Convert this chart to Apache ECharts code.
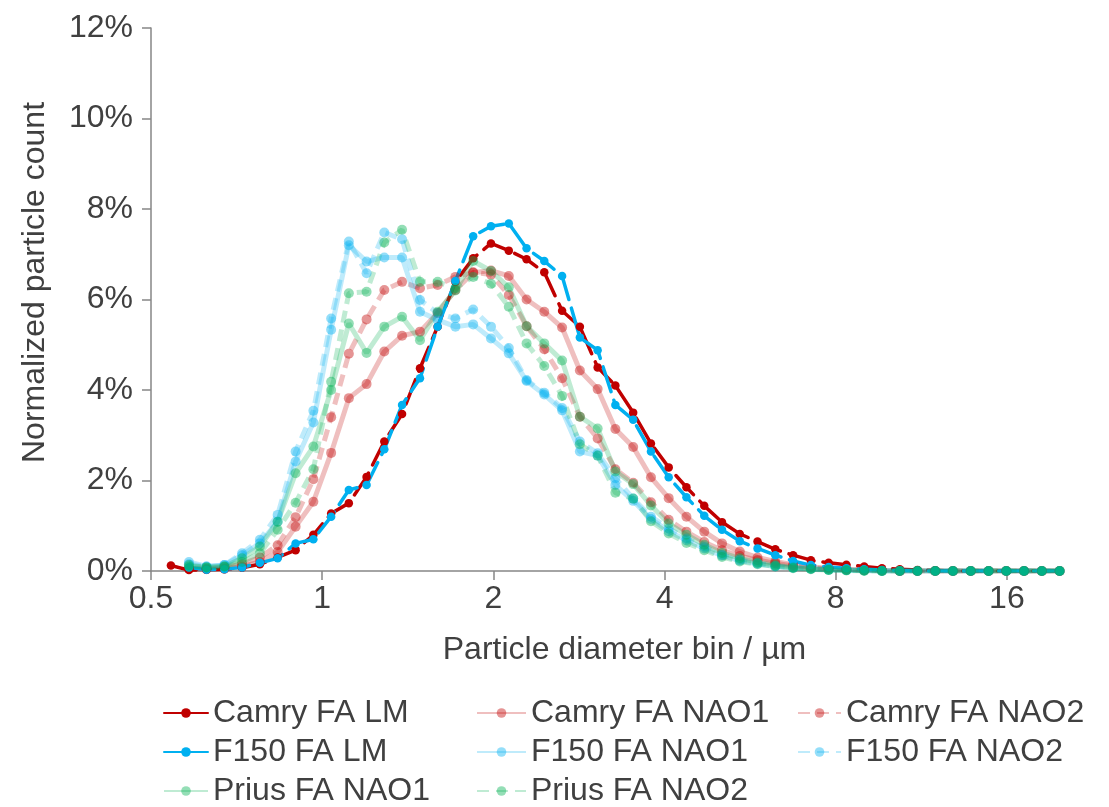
<!DOCTYPE html>
<html>
<head>
<meta charset="utf-8">
<script src="https://cdn.jsdelivr.net/npm/echarts@6/dist/echarts.min.js"></script>
<style>
html,body{margin:0;padding:0;background:#fff;}
#chart{width:1109px;height:807px;}
</style>
</head>
<body>
<div id="chart"></div>
<script>
// Particle diameter bin midpoints (µm)
const diameters = [0.542,0.583,0.626,0.673,0.723,0.777,0.835,0.898,0.965,1.037,
  1.114,1.197,1.286,1.382,1.486,1.596,1.715,1.843,1.981,2.129,
  2.288,2.458,2.642,2.839,3.051,3.278,3.523,3.786,4.068,4.371,
  4.698,5.048,5.425,5.829,6.264,6.732,7.234,7.774,8.354,8.977,
  9.647,10.37,11.14,11.97,12.86,13.82,14.86,15.96,17.15,18.43,
  19.81];

// Normalized particle count (%)
const camryLM = [0.12,0.02,0.03,0.04,0.07,0.15,0.3,0.46,0.8,1.27,
  1.5,2.08,2.86,3.47,4.48,5.4,6.39,6.91,7.24,7.08,
  6.89,6.6,5.75,5.4,4.5,4.1,3.5,2.82,2.29,1.85,
  1.44,1.08,0.82,0.65,0.48,0.35,0.24,0.18,0.14,0.1,
  0.06,0.04,0.02,0.01,0,0,0,0,0,0,0];
const camryNAO1 = [null,0.05,0.04,0.05,0.1,0.2,0.42,0.98,1.53,2.61,
  3.82,4.13,4.85,5.2,5.29,5.7,6.21,6.59,6.64,6.52,
  6.0,5.73,5.38,4.43,4.02,3.14,2.74,2.07,1.61,1.2,
  0.87,0.61,0.43,0.3,0.21,0.14,0.09,0.06,0.04,0.02,
  0.01,0,0,0,0,0,0,0,0,0,0];
const camryNAO2 = [null,0.05,0.05,0.08,0.15,0.3,0.57,1.19,2.03,3.4,
  4.8,5.56,6.21,6.39,6.25,6.32,6.5,6.6,6.55,6.1,
  5.41,4.9,4.26,3.41,2.93,2.25,1.95,1.52,1.13,0.87,
  0.64,0.46,0.33,0.24,0.17,0.11,0.07,0.05,0.03,0.02,
  0.01,0,0,0,0,0,0,0,0,0,0];
const f150LM = [null,0.08,0.03,0.04,0.08,0.18,0.28,0.61,0.7,1.2,
  1.79,1.9,2.69,3.67,4.26,5.4,6.41,7.4,7.62,7.68,
  7.13,6.85,6.52,5.16,4.88,3.67,3.34,2.64,2.07,1.63,
  1.22,0.91,0.66,0.5,0.35,0.22,0.13,0.09,0.06,0.04,
  0.02,0.01,0,0,0,0,0,0,0,0,0];
const f150NAO1 = [null,0.2,0.1,0.13,0.35,0.61,1.09,2.42,3.28,5.33,
  7.2,6.84,6.93,6.93,5.73,5.55,5.4,5.45,5.14,4.81,
  4.2,3.9,3.55,2.64,2.55,1.9,1.55,1.15,0.88,0.68,
  0.5,0.34,0.23,0.16,0.1,0.07,0.05,0.03,0.02,0.01,
  0,0,0,0,0,0,0,0,0,0,0];
const f150NAO2 = [null,0.15,0.1,0.13,0.39,0.69,1.24,2.64,3.54,5.58,
  7.28,6.58,7.48,7.33,5.99,5.7,5.58,5.78,5.4,4.93,
  4.22,3.94,3.6,2.86,2.6,2.05,1.6,1.2,0.94,0.72,
  0.54,0.36,0.25,0.17,0.11,0.07,0.05,0.03,0.02,0.01,
  0,0,0,0,0,0,0,0,0,0,0];
const priusNAO1 = [null,0.13,0.08,0.1,0.28,0.54,1.09,2.16,2.75,4.0,
  5.47,4.82,5.4,5.62,5.1,5.73,6.2,6.85,6.63,6.27,
  5.41,5.03,4.65,3.41,3.15,2.2,1.92,1.45,1.05,0.8,
  0.58,0.4,0.28,0.19,0.13,0.08,0.05,0.03,0.02,0.01,
  0,0,0,0,0,0,0,0,0,0,0];
const priusNAO2 = [null,0.1,0.08,0.1,0.2,0.39,0.91,1.51,2.25,4.18,
  6.14,6.17,7.26,7.54,6.39,6.39,6.25,6.5,6.35,5.84,
  5.03,4.53,3.87,2.8,2.55,1.73,1.6,1.1,0.83,0.62,
  0.46,0.31,0.21,0.15,0.1,0.06,0.04,0.02,0.01,0,
  0,0,0,0,0,0,0,0,0,0,0];

const xTicks = [0.5, 1, 2, 4, 8, 16];

const RED = '#C00000', BLUE = '#00B0F0', GREEN = '#00B050';
const FONT = '"Liberation Sans", Arial, sans-serif';
const FS = 32;
const TXT = '#404040';
const AX = '#868686';

function pairs(vals) {
  return diameters.map((d, i) => [d, vals[i]]);
}
function lmSeries(name, vals, color) {
  return {
    name, type: 'line', data: pairs(vals),
    symbol: 'circle', symbolSize: 8.5, connectNulls: false,
    lineStyle: { color, width: 3.5, type: [26, 9], cap: 'round' },
    itemStyle: { color }
  };
}
function naoSeries(name, vals, color, dashed) {
  return {
    name, type: 'line', data: pairs(vals),
    symbol: 'circle', symbolSize: 10,
    lineStyle: { color, width: 5, opacity: 0.25, type: dashed ? [12, 7] : 'solid' },
    itemStyle: { color, opacity: 0.42 }
  };
}

// one legend entry per component, laid out in a 3-column grid
const legendCells = [
  ['Camry FA LM', 163, 713, 44, true],
  ['Camry FA NAO1', 476, 713, 49, false],
  ['Camry FA NAO2', 797, 713, 43, false],
  ['F150 FA LM', 163, 752, 44, true],
  ['F150 FA NAO1', 476, 752, 49, false],
  ['F150 FA NAO2', 797, 752, 43, false],
  ['Prius FA NAO1', 163, 791, 44, false],
  ['Prius FA NAO2', 476, 791, 49, false]
];
const legends = legendCells.map(([name, x, cy, w, solid]) => ({
  left: x, top: cy - FS / 2, padding: 0, itemWidth: w, itemHeight: 12, itemGap: 0,
  textStyle: { fontFamily: FONT, fontSize: FS, color: TXT, lineHeight: FS },
  data: [solid ? { name, lineStyle: { type: 'solid' } } : name]
}));

const chart = echarts.init(document.getElementById('chart'));
chart.setOption({
  animation: false,
  backgroundColor: '#ffffff',
  textStyle: { fontFamily: FONT },
  grid: { left: 151, right: 47, top: 28, bottom: 236, containLabel: false },
  xAxis: {
    type: 'log', logBase: 2, min: 0.5, max: 20,
    name: 'Particle diameter bin / µm', nameLocation: 'middle', nameGap: 63,
    nameTextStyle: { fontFamily: FONT, fontSize: FS, color: TXT, padding: [0, 0, 0, 36] },
    axisLine: { show: true, lineStyle: { color: AX, width: 1.5 } },
    axisTick: { show: true, length: 9, lineStyle: { color: AX, width: 1.5 } },
    axisLabel: {
      fontFamily: FONT, fontSize: FS, color: TXT, margin: 12, showMaxLabel: false,
      formatter: v => {
        const r = Math.round(v * 100) / 100;
        return xTicks.indexOf(r) >= 0 ? String(r) : '';
      }
    },
    splitLine: { show: false }, minorTick: { show: false }
  },
  yAxis: {
    type: 'value', min: 0, max: 12, interval: 2,
    name: 'Normalized particle count', nameLocation: 'middle', nameGap: 100,
    nameTextStyle: { fontFamily: FONT, fontSize: FS, color: TXT, padding: [0, 0, 0, 34] },
    axisLine: { show: true, lineStyle: { color: AX, width: 1.5 } },
    axisTick: { show: true, length: 9, lineStyle: { color: AX, width: 1.5 } },
    axisLabel: { fontFamily: FONT, fontSize: FS, color: TXT, margin: 18, formatter: '{value}%' },
    splitLine: { show: false }
  },
  legend: legends,
  series: [
    lmSeries('Camry FA LM', camryLM, RED),
    naoSeries('Camry FA NAO1', camryNAO1, RED, false),
    naoSeries('Camry FA NAO2', camryNAO2, RED, true),
    lmSeries('F150 FA LM', f150LM, BLUE),
    naoSeries('F150 FA NAO1', f150NAO1, BLUE, false),
    naoSeries('F150 FA NAO2', f150NAO2, BLUE, true),
    naoSeries('Prius FA NAO1', priusNAO1, GREEN, false),
    naoSeries('Prius FA NAO2', priusNAO2, GREEN, true)
  ]
});
</script>
</body>
</html>
